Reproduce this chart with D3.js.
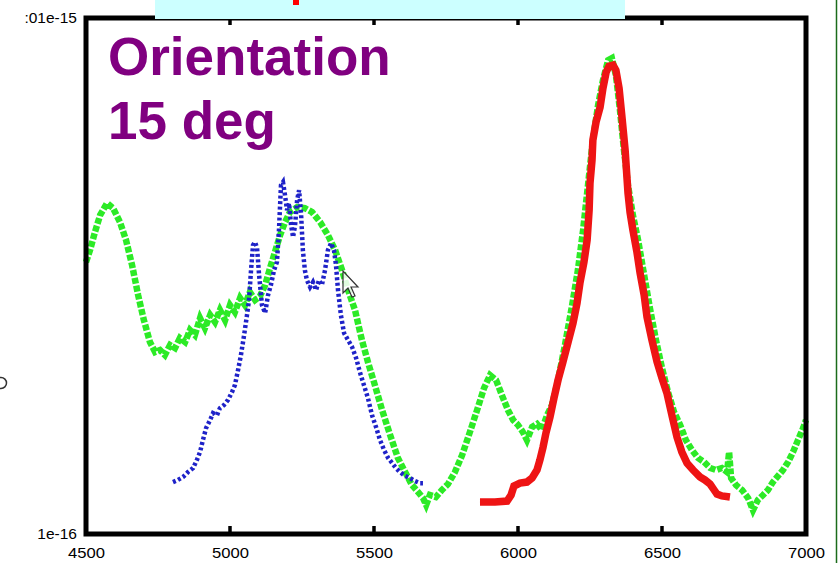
<!DOCTYPE html>
<html>
<head>
<meta charset="utf-8">
<script src="https://cdn.jsdelivr.net/npm/d3@7"></script>
<style>
  html, body { margin: 0; padding: 0; background: #fff; }
  svg { display: block; }
</style>
</head>
<body>
<svg id="chart" width="838" height="563"></svg>
<script>
// Flux values are given in units of 1e-16.
const FLUX_UNIT = 1e-16;

// Green spectrum (dashed)
const greenWave = [4500,4514,4531,4549,4573,4594,4618,4639,4660,4681,4701,4722,4740,4757,4774,4792,4809,4826,4844,4861,4878,4896,4913,4931,4948,4965,4983,5000,5017,5035,5052,5069,5087,5104,5122,5139,5156,5174,5191,5208,5233,5260,5285,5313,5340,5365,5389,5410,5434,5458,5479,5503,5528,5556,5583,5608,5632,5653,5670,5681,5694,5715,5736,5757,5781,5806,5833,5858,5882,5903,5924,5944,5965,5983,6000,6017,6031,6049,6066,6083,6101,6118,6139,6163,6188,6208,6226,6243,6260,6278,6295,6313,6326,6340,6354,6368,6382,6399,6417,6438,6458,6479,6500,6521,6542,6563,6583,6604,6625,6646,6667,6688,6708,6726,6733,6740,6757,6778,6799,6816,6833,6851,6868,6885,6903,6920,6938,6955,6972,6990,7000];
const greenFlux = [3.382,3.569,3.868,4.174,4.405,4.307,4.046,3.733,3.337,2.917,2.608,2.363,2.260,2.280,2.230,2.332,2.301,2.406,2.363,2.494,2.439,2.631,2.516,2.668,2.585,2.728,2.608,2.789,2.704,2.879,2.789,2.956,2.853,2.904,3.051,3.292,3.537,3.817,4.046,4.231,4.327,4.307,4.231,4.046,3.817,3.569,3.263,2.983,2.728,2.385,2.161,1.949,1.743,1.558,1.406,1.320,1.245,1.207,1.175,1.139,1.191,1.180,1.218,1.251,1.320,1.424,1.579,1.743,1.923,2.038,1.993,1.864,1.743,1.667,1.630,1.579,1.523,1.615,1.637,1.594,1.704,1.782,1.993,2.332,2.789,3.263,3.903,4.775,5.842,6.833,7.644,8.361,8.437,7.816,6.684,5.585,4.775,4.174,3.733,3.191,2.753,2.385,2.104,1.889,1.727,1.630,1.523,1.457,1.406,1.381,1.344,1.332,1.344,1.320,1.444,1.285,1.245,1.218,1.175,1.113,1.165,1.191,1.218,1.262,1.297,1.332,1.381,1.444,1.523,1.608,1.667];

// Blue spectrum (dotted)
const blueWave = [4802,4819,4837,4854,4872,4885,4896,4906,4917,4931,4941,4955,4965,4979,4993,5007,5017,5028,5038,5049,5059,5066,5073,5080,5087,5094,5101,5111,5122,5132,5142,5153,5163,5170,5177,5184,5191,5198,5205,5212,5219,5226,5233,5240,5247,5253,5260,5267,5278,5288,5299,5309,5319,5330,5340,5351,5361,5368,5375,5385,5396,5410,5424,5438,5451,5465,5479,5493,5507,5521,5535,5549,5563,5576,5590,5608,5625,5642,5660,5670];
const blueFlux = [1.262,1.274,1.291,1.320,1.344,1.393,1.444,1.523,1.608,1.667,1.719,1.704,1.758,1.782,1.823,1.889,1.949,2.085,2.230,2.439,2.668,2.853,3.263,3.650,3.699,3.601,3.191,2.789,2.692,2.917,3.051,3.263,3.382,3.903,4.775,4.840,4.565,4.269,4.405,3.991,3.783,3.991,4.465,4.670,4.174,3.569,3.263,3.120,3.024,3.092,2.983,3.120,3.051,3.263,3.569,3.683,3.569,3.337,2.983,2.668,2.461,2.385,2.311,2.199,2.066,1.949,1.839,1.704,1.615,1.523,1.457,1.406,1.374,1.344,1.320,1.297,1.285,1.268,1.256,1.256];

// Red spectrum (solid)
const redWave = [5868,5920,5962,5976,5986,6007,6031,6049,6066,6076,6087,6097,6111,6125,6139,6156,6174,6191,6205,6215,6229,6240,6247,6250,6257,6260,6271,6285,6295,6306,6316,6330,6340,6351,6361,6372,6382,6389,6399,6413,6424,6438,6448,6465,6483,6500,6517,6535,6552,6569,6587,6608,6632,6649,6667,6681,6691,6708,6736];
const redFlux = [1.154,1.154,1.159,1.191,1.240,1.256,1.262,1.285,1.332,1.393,1.476,1.572,1.689,1.839,1.993,2.161,2.363,2.573,2.814,3.078,3.382,3.733,4.269,4.818,5.341,5.842,6.334,6.773,7.375,7.921,8.139,8.176,7.993,7.375,6.478,5.585,4.607,4.231,3.903,3.537,3.219,2.917,2.643,2.385,2.161,2.011,1.881,1.697,1.544,1.444,1.374,1.332,1.291,1.274,1.251,1.218,1.196,1.186,1.180];

// Axis ticks and labels
const xTicks = [4500, 5000, 5500, 6000, 6500, 7000];
const xInnerTicks = [5000, 5500, 6000, 6500];
const yTickValues = [1e-16, 1.01e-15];
const yTickLabels = ["1e-16", ":01e-15"];
const titleLines = ["Orientation", "15 deg"];

const svg = d3.select("#chart");
const plot = { left: 86, right: 806, top: 18, bottom: 534 };

const x = d3.scaleLinear().domain([4500, 7000]).range([plot.left, plot.right]);
const y = d3.scaleLog().domain([1e-16, 1.01e-15]).range([plot.bottom, plot.top]);

const toPoints = (w, f) => w.map((d, i) => [d, f[i] * FLUX_UNIT]);
const line = d3.line().x(d => x(d[0])).y(d => y(d[1]));

// Spectra
svg.append("path")
  .attr("d", line(toPoints(greenWave, greenFlux)))
  .attr("fill", "none").attr("stroke", "#2cea26")
  .attr("stroke-width", 6.5).attr("stroke-dasharray", "6,2");

svg.append("path")
  .attr("d", line(toPoints(blueWave, blueFlux)))
  .attr("fill", "none").attr("stroke", "#1e22c8")
  .attr("stroke-width", 4.5).attr("stroke-dasharray", "3,2.5");

svg.append("path")
  .attr("d", line(toPoints(redWave, redFlux)))
  .attr("fill", "none").attr("stroke", "#ee1414")
  .attr("stroke-width", 7.5).attr("stroke-linejoin", "miter");

// Frame
svg.append("rect")
  .attr("x", plot.left).attr("y", plot.top)
  .attr("width", plot.right - plot.left).attr("height", plot.bottom - plot.top)
  .attr("fill", "none").attr("stroke", "#000").attr("stroke-width", 5);

// Bottom axis labels
const bottomAxis = d3.axisBottom(x).tickValues(xTicks).tickFormat(d3.format("d")).tickSize(0).tickPadding(13);
const gx = svg.append("g").attr("transform", `translate(0,${plot.bottom})`).call(bottomAxis);
gx.select(".domain").remove();
gx.selectAll("text")
  .attr("font-family", "Liberation Sans, Arial, sans-serif")
  .attr("font-size", 15).attr("fill", "#000")
  .attr("textLength", 37).attr("lengthAdjust", "spacingAndGlyphs");

// Inward ticks on the bottom and top edges
svg.append("g").selectAll("line").data(xInnerTicks).join("line")
  .attr("x1", d => x(d)).attr("x2", d => x(d))
  .attr("y1", plot.bottom).attr("y2", plot.bottom - 8)
  .attr("stroke", "#000").attr("stroke-width", 3.5);
svg.append("g").selectAll("line").data(xInnerTicks).join("line")
  .attr("x1", d => x(d)).attr("x2", d => x(d))
  .attr("y1", plot.top).attr("y2", plot.top + 7)
  .attr("stroke", "#000").attr("stroke-width", 3.5);

// Left axis labels
svg.append("g").selectAll("text").data(yTickValues).join("text")
  .attr("x", 77).attr("y", d => y(d) + 5)
  .attr("text-anchor", "end")
  .attr("font-family", "Liberation Sans, Arial, sans-serif")
  .attr("font-size", 15.5)
  .text((d, i) => yTickLabels[i]);

// Title
svg.append("g").selectAll("text").data(titleLines).join("text")
  .attr("x", 108).attr("y", (d, i) => 75 + i * 64)
  .attr("font-family", "Liberation Sans, Arial, sans-serif")
  .attr("font-weight", "bold").attr("font-size", 53)
  .attr("fill", "#800080")
  .text(d => d);

// Banner strip along the top edge
svg.append("rect").attr("x", 155).attr("y", 0).attr("width", 470).attr("height", 19).attr("fill", "#ccffff");
svg.append("rect").attr("x", 293).attr("y", 0).attr("width", 6).attr("height", 5).attr("fill", "#ff0000");

// Pointer arrow
svg.append("path")
  .attr("d", "M343,271 L343,293 L348,288 L352,297 L355,296 L351,287 L358,287 Z")
  .attr("fill", "#fff").attr("fill-opacity", 0.85)
  .attr("stroke", "#333").attr("stroke-width", 1.2);

// Partial glyph at left edge
svg.append("circle").attr("cx", 1).attr("cy", 383).attr("r", 5.5)
  .attr("fill", "none").attr("stroke", "#333").attr("stroke-width", 1.5);

// Right edge rule
svg.append("line").attr("x1", 836.5).attr("x2", 836.5).attr("y1", 0).attr("y2", 563)
  .attr("stroke", "#1b6b1b").attr("stroke-width", 1.5);
</script>
</body>
</html>
